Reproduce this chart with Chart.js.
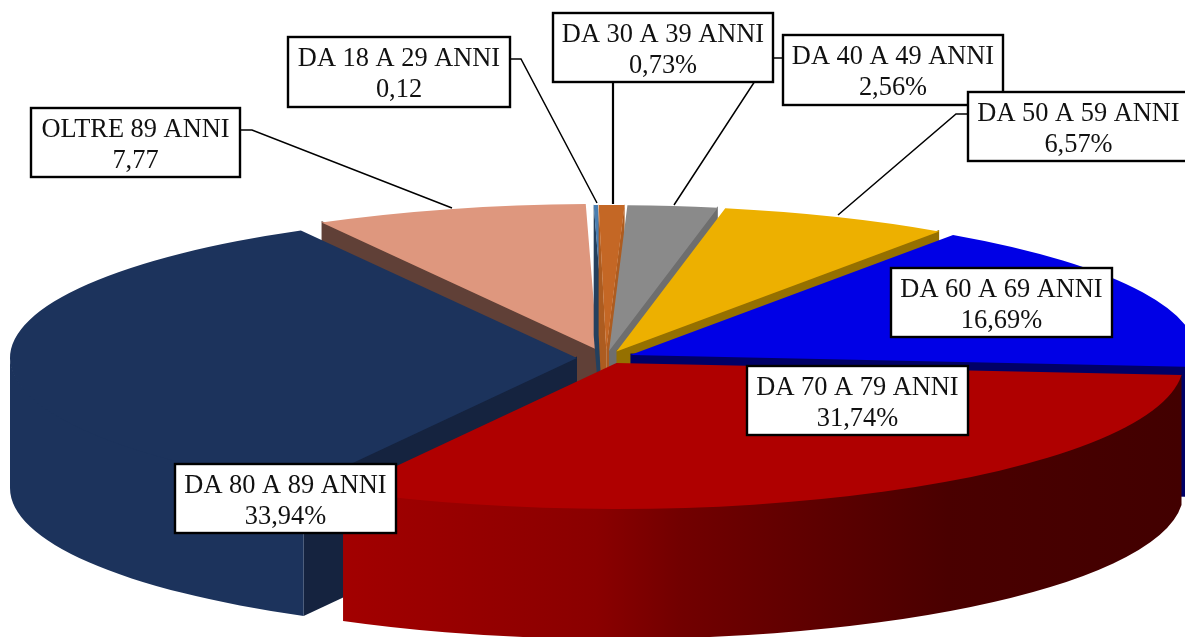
<!DOCTYPE html>
<html lang="it">
<head>
<meta charset="utf-8">
<title>Distribuzione per fasce di eta</title>
<script src="https://cdn.jsdelivr.net/npm/chart.js@4"></script>
<style>
  html, body { margin: 0; padding: 0; background: #fff; overflow: hidden; }
  #wrap { position: relative; width: 1185px; height: 637px; }
</style>
</head>
<body>
<div id="wrap"><canvas id="pie"></canvas></div>
<script>
const categories = ['DA 18 A 29 ANNI', 'DA 30 A 39 ANNI', 'DA 40 A 49 ANNI', 'DA 50 A 59 ANNI',
  'DA 60 A 69 ANNI', 'DA 70 A 79 ANNI', 'DA 80 A 89 ANNI', 'OLTRE 89 ANNI'];
const values = [0.12, 0.73, 2.56, 6.57, 16.69, 31.74, 33.94, 7.77];
const valueLabels = ['0,12', '0,73%', '2,56%', '6,57%', '16,69%', '31,74%', '33,94%', '7,77'];

const topColors = ['#4a7eb0', '#c46725', '#8a8a8a', '#edb000', '#0000e6', '#af0000', '#1c335c', '#de977e'];
const cutColors = ['#24405e', '#ad5c20', '#6e6e6e', '#957000', '#000066', '#500000', '#15233f', '#604037'];
const rimColors = ['#24405e', '#ad5c20', '#6e6e6e', '#957000', '#000066', null, '#1c335c', '#604037'];

// how far each slice is pulled out of the pie, px in pie space
const explode = [27, 27, 27, 27, 27, 22, 29, 32];
// back to front, so nearer slices cover the walls behind them
const paintOrder = [7, 0, 1, 2, 3, 4, 6, 5];

const TILT = 0.2575;
const DEPTH = 130;
const OVERLAP = 1.5; // walls start a bit under the top face, avoids a pale seam

// callout boxes: [left, top, right, bottom], same order as categories
const boxes = [
  [288, 37, 510, 107], [553, 13, 773, 82], [783, 35, 1003, 105], [968, 92, 1189, 161],
  [891, 268, 1112, 337], [747, 366, 968, 435], [175, 464, 396, 533], [31, 108, 240, 177]
];
// leader lines, only the outer slices have one
const leaders = [
  { pts: [[510, 59], [521, 59], [597, 203]], w: 1.5 },
  { pts: [[613, 82], [613, 204]], w: 2.2 },
  { pts: [[783, 58], [770, 58], [674, 205]], w: 1.5 },
  { pts: [[968, 114], [956, 114], [838, 215]], w: 1.5 },
  { pts: [[240, 130], [252, 130], [452, 208]], w: 1.5 }
];

function redRim(ctx) {
  const g = ctx.createLinearGradient(345, 0, 1182, 0);
  g.addColorStop(0, '#a20000');
  g.addColorStop(0.3, '#8a0000');
  g.addColorStop(0.4, '#720000');
  g.addColorStop(0.72, '#4a0000');
  g.addColorStop(1, '#420000');
  return g;
}

function drawCut(ctx, ax, ay, r, angle, color) {
  const ex = ax + Math.cos(angle) * r;
  const ey = ay + Math.sin(angle) * r * TILT;
  ctx.fillStyle = color;
  ctx.beginPath();
  ctx.moveTo(ax, ay - OVERLAP);
  ctx.lineTo(ex, ey - OVERLAP);
  ctx.lineTo(ex, ey + DEPTH);
  ctx.lineTo(ax, ay + DEPTH);
  ctx.closePath();
  ctx.fill();
}

function drawRim(ctx, ax, ay, r, a0, a1, color) {
  ctx.fillStyle = color;
  ctx.beginPath();
  ctx.ellipse(ax, ay - OVERLAP, r, r * TILT, 0, a0, a1);
  ctx.ellipse(ax, ay + DEPTH, r, r * TILT, 0, a1, a0, true);
  ctx.closePath();
  ctx.fill();
}

const pie3d = {
  id: 'pie3d',
  beforeDatasetsDraw(chart) {
    const ctx = chart.ctx;
    const arcs = chart.getDatasetMeta(0).data;
    paintOrder.forEach(i => {
      const arc = arcs[i];
      const mid = (arc.startAngle + arc.endAngle) / 2;
      const ax = arc.x + Math.cos(mid) * explode[i];
      const ay = arc.y + Math.sin(mid) * explode[i] * TILT;
      const r = arc.outerRadius;

      // only walls that face the viewer
      if (Math.cos(arc.startAngle) < 0) drawCut(ctx, ax, ay, r, arc.startAngle, cutColors[i]);
      if (Math.cos(arc.endAngle) > 0) drawCut(ctx, ax, ay, r, arc.endAngle, cutColors[i]);
      const a0 = Math.max(arc.startAngle, 0);
      const a1 = Math.min(arc.endAngle, Math.PI);
      if (a1 > a0) drawRim(ctx, ax, ay, r, a0, a1, rimColors[i] || redRim(ctx));

      // top face is the library's own arc, squashed
      ctx.save();
      ctx.translate(ax, ay);
      ctx.scale(1, TILT);
      ctx.translate(-arc.x, -arc.y);
      arc.draw(ctx);
      ctx.restore();
    });
    return false;
  },
  afterDraw(chart) {
    const ctx = chart.ctx;
    ctx.save();
    ctx.strokeStyle = '#000';
    leaders.forEach(l => {
      ctx.lineWidth = l.w;
      ctx.beginPath();
      l.pts.forEach((p, n) => n ? ctx.lineTo(p[0], p[1]) : ctx.moveTo(p[0], p[1]));
      ctx.stroke();
    });
    ctx.font = '26.4px "Liberation Serif"';
    ctx.textAlign = 'center';
    ctx.textBaseline = 'alphabetic';
    boxes.forEach((b, i) => {
      ctx.fillStyle = '#fff';
      ctx.fillRect(b[0], b[1], b[2] - b[0], b[3] - b[1]);
      ctx.lineWidth = 2.4;
      ctx.strokeRect(b[0], b[1], b[2] - b[0], b[3] - b[1]);
      const cx = (b[0] + b[2]) / 2;
      const cy = (b[1] + b[3]) / 2;
      ctx.fillStyle = '#111';
      ctx.fillText(categories[i], cx, cy - 6);
      ctx.fillText(valueLabels[i], cx, cy + 25);
    });
    ctx.restore();
  }
};

new Chart(document.getElementById('pie'), {
  type: 'pie',
  data: {
    labels: categories,
    datasets: [{ data: values, backgroundColor: topColors, borderWidth: 0 }]
  },
  options: {
    responsive: true,
    maintainAspectRatio: false,
    animation: false,
    radius: 567,
    rotation: -1.2,
    layout: { padding: { left: 27, top: 79 } },
    events: [],
    plugins: { legend: { display: false }, tooltip: { enabled: false } }
  },
  plugins: [pie3d]
});
</script>
</body>
</html>
